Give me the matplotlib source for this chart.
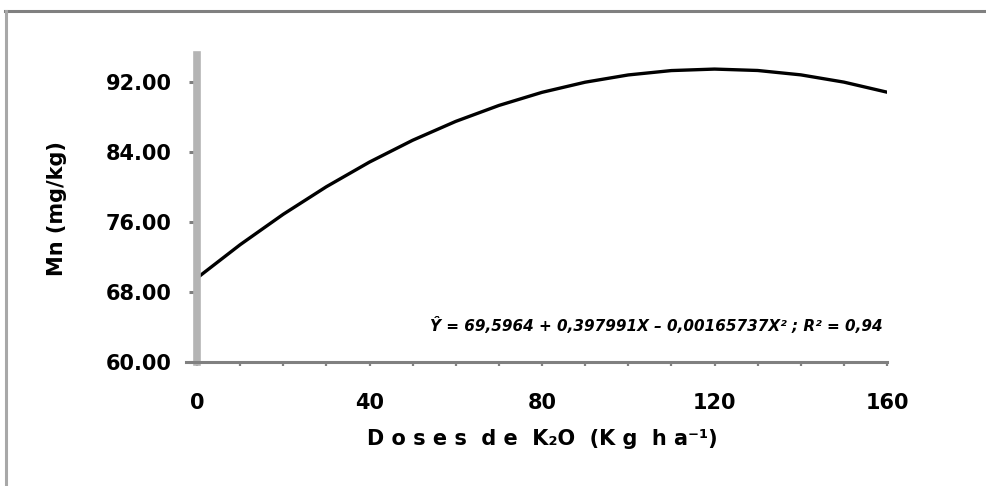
import matplotlib.pyplot as plt
from matplotlib.lines import Line2D

# values
doses = [0, 10, 20, 30, 40, 50, 60, 70, 80, 90, 100, 110, 120, 130, 140, 150, 160]
mn = [69.60, 73.41, 76.89, 80.04, 82.86, 85.35, 87.51, 89.33, 90.83,
      91.99, 92.82, 93.32, 93.49, 93.33, 92.83, 92.00, 90.85]

y_ticks = [60, 68, 76, 84, 92]
x_ticks = [0, 40, 80, 120, 160]
equation = "Ŷ = 69,5964 + 0,397991X – 0,00165737X² ; R² = 0,94"

plt.rcParams['font.family'] = ['DejaVu Sans']

fig = plt.figure(figsize=(9.87, 4.86), dpi=100)
ax = fig.add_axes([197 / 987, 1 - 362 / 486, 690 / 987, 307 / 486])

ax.plot(doses, mn, color='black', lw=2.4)

ax.set_xlim(0, 160)
ax.set_ylim(60, 95.1)
ax.set_yticks(y_ticks)
ax.set_yticklabels([f"{v:.2f}" for v in y_ticks])
ax.set_xticks(x_ticks)
ax.set_xticks(range(0, 161, 10), minor=True)

for s in ['top', 'right']:
    ax.spines[s].set_visible(False)
ax.spines['left'].set_color('#b4b4b4')
ax.spines['left'].set_linewidth(5.5)
ax.spines['bottom'].set_color('#808080')
ax.spines['bottom'].set_linewidth(2.2)
ax.spines['bottom'].set_bounds(-2.6, 160)

ax.tick_params(axis='y', length=6, width=2.2, color='#808080', pad=12,
               labelsize=15)
ax.tick_params(axis='x', which='both', length=3, width=1.6, color='#808080',
               pad=19, labelsize=15)
for lab in ax.get_xticklabels() + ax.get_yticklabels():
    lab.set_fontweight('bold')

ax.set_ylabel("Mn (mg/kg)", fontsize=15, fontweight='bold', labelpad=28)
ax.set_xlabel("D o s e s  d e  K₂O  (K g  h a⁻¹)", fontsize=15,
              fontweight='bold', labelpad=12)

ax.text(159, 64.2, equation, ha='right', va='center', fontsize=11,
        fontweight='bold', style='italic')

# outer frame
fig.add_artist(Line2D([5 / 987, 1], [1 - 11 / 486] * 2, color='#808080', lw=2.2))
fig.add_artist(Line2D([6 / 987] * 2, [0, 1 - 11 / 486], color='#a8a8a8', lw=2.2))

fig.savefig('out.png', dpi=100)
